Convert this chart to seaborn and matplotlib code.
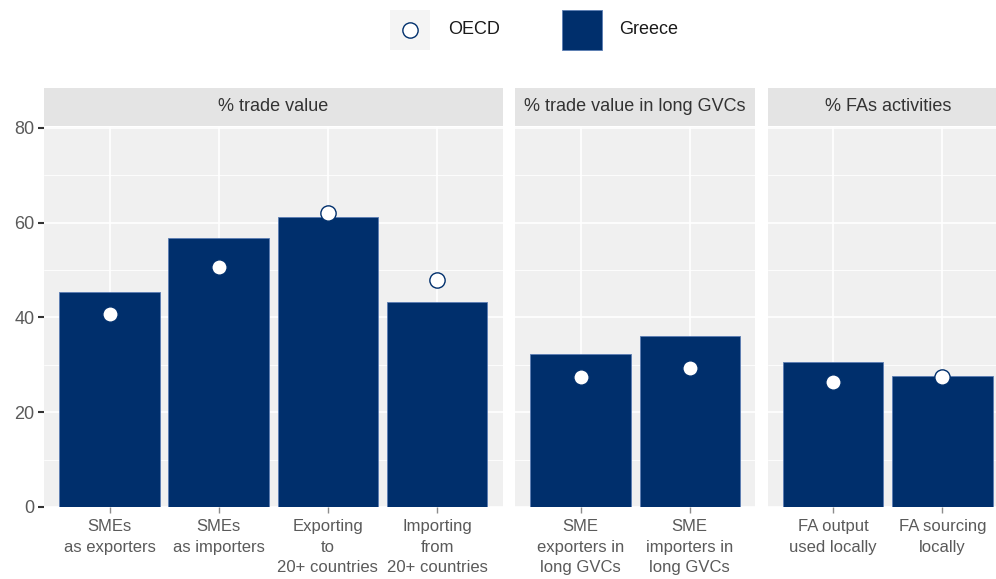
import numpy as np
import pandas as pd
import matplotlib
matplotlib.use("Agg")
import matplotlib.pyplot as plt
from matplotlib.patches import Rectangle
from matplotlib.lines import Line2D
import seaborn as sns

# data
facets = ["% trade value"] * 4 + ["% trade value in long GVCs"] * 2 + ["% FAs activities"] * 2
labels = ["SMEs\nas exporters", "SMEs\nas importers", "Exporting\nto\n20+ countries",
          "Importing\nfrom\n20+ countries", "SME\nexporters in\nlong GVCs",
          "SME\nimporters in\nlong GVCs", "FA output\nused locally", "FA sourcing\nlocally"]
greece = [45.3, 56.8, 61.1, 43.2, 32.2, 36.0, 30.7, 27.6]
oecd = [40.8, 50.7, 62.1, 48.0, 27.4, 29.3, 26.3, 27.4]
facet_order = ["% trade value", "% trade value in long GVCs", "% FAs activities"]

df = pd.DataFrame({"facet": facets, "label": labels, "greece": greece, "oecd": oecd})

BLUE = "#002F6C"
sns.set_style("white")
plt.rcParams["font.family"] = ["Liberation Sans", "DejaVu Sans"]

counts = [int((df.facet == f).sum()) for f in facet_order]
fig, axes = plt.subplots(1, 3, figsize=(9.96, 5.79), dpi=100,
                         gridspec_kw=dict(width_ratios=[c + 0.2 for c in counts],
                                          left=0.0442, right=1.012, bottom=0.1244,
                                          top=0.7807, wspace=0.04))

for i, (ax, f) in enumerate(zip(axes, facet_order)):
    sub = df[df.facet == f]
    n = len(sub)
    sns.barplot(data=sub, x="label", y="greece", color=BLUE, saturation=1, width=0.92,
                edgecolor="#5B7DB3", linewidth=0.6, ax=ax, zorder=2)
    sns.stripplot(data=sub, x="label", y="oecd", jitter=False, size=11,
                  color="white", edgecolor=BLUE, linewidth=1.0, ax=ax, zorder=3)
    ax.set_xlim(-0.6, n - 0.4)
    ax.set_ylim(0, 80.2)
    ax.set_facecolor("#F0F0F0")
    ax.set_yticks([0, 20, 40, 60, 80])
    ax.set_yticks([10, 30, 50, 70], minor=True)
    ax.grid(which="major", color="white", lw=1.2)
    ax.grid(which="minor", axis="y", color="white", lw=0.6)
    ax.set_axisbelow(True)
    for s in ax.spines.values():
        s.set_visible(False)
    ax.set_xlabel("")
    ax.set_ylabel("")
    ax.tick_params(axis="x", which="major", bottom=True, length=4, width=1, color="#8C8C8C",
                   labelsize=12, labelcolor="#5A5A5A", pad=5)
    ax.tick_params(axis="y", which="minor", left=False, length=0)
    if i == 0:
        ax.tick_params(axis="y", which="major", left=True, length=4, width=1.5,
                       color="#333333", labelsize=13, labelcolor="#5A5A5A", pad=3)
    else:
        ax.tick_params(axis="y", which="major", left=False, length=0, labelleft=False)
    for t in ax.get_xticklabels():
        t.set_linespacing(1.45)
        t.set_va("top")
    # facet strip
    ax.add_patch(Rectangle((0, 1.003), 1, 0.1, transform=ax.transAxes,
                           facecolor="#E4E4E4", edgecolor="none", clip_on=False))
    ax.text(0.5, 1.053, f, transform=ax.transAxes, ha="center", va="center",
            fontsize=13, color="#333333")

# legend at top
W, H = 996, 579
fig.add_artist(Rectangle((390 / W, 1 - 50 / H), 40 / W, 40 / H, transform=fig.transFigure,
                         facecolor="#F4F4F4", edgecolor="none"))
fig.add_artist(Line2D([410 / W], [1 - 30 / H], transform=fig.transFigure, marker="o",
                      markersize=11, markerfacecolor="white", markeredgecolor=BLUE,
                      markeredgewidth=1.0, linestyle="none"))
fig.text(448 / W, 1 - 30 / H, "OECD", ha="left", va="center", fontsize=13, color="#1A1A1A")
fig.add_artist(Rectangle((562 / W, 1 - 50 / H), 40 / W, 40 / H, transform=fig.transFigure,
                         facecolor=BLUE, edgecolor="#5B7DB3", linewidth=0.6))
fig.text(619 / W, 1 - 30 / H, "Greece", ha="left", va="center", fontsize=13, color="#1A1A1A")

fig.savefig("out.png", dpi=100)
